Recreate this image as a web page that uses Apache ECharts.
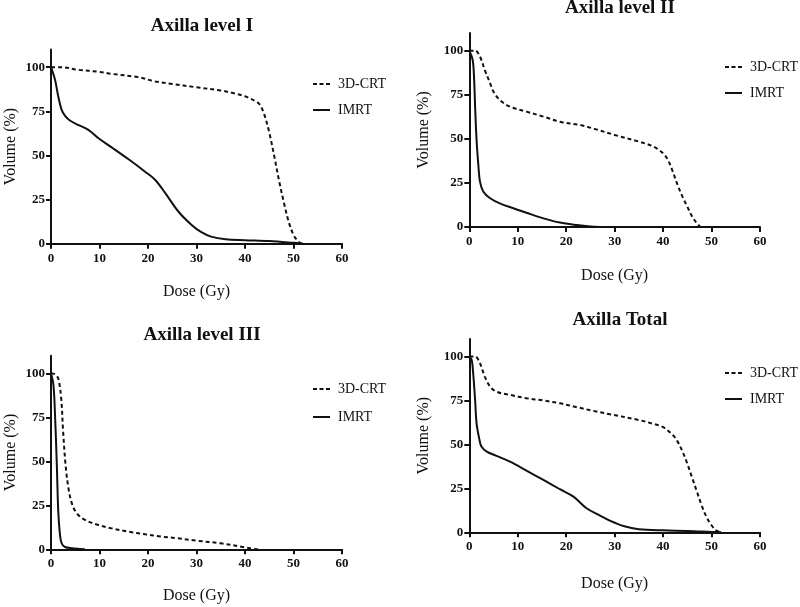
<!DOCTYPE html>
<html><head><meta charset="utf-8">
<script src="https://cdn.jsdelivr.net/npm/echarts@6/dist/echarts.min.js"></script>
<style>html,body{margin:0;padding:0;background:#fff}#c{width:800px;height:607px}</style>
</head><body><div id="c"></div>
<script>
var titles = ['Axilla level I', 'Axilla level II', 'Axilla level III', 'Axilla Total'];
var seriesNames = ['3D-CRT', 'IMRT'];
var xTicks = [0, 10, 20, 30, 40, 50, 60];
var yTicks = [0, 25, 50, 75, 100];

// Axilla level I
var l1CrtDose = [0, 2, 5.6, 10, 12.5, 18, 21.5, 25, 29.7, 35, 38, 40, 42, 43, 44, 45, 46, 47, 48, 49, 50, 51, 51.7];
var l1CrtVol  = [100, 100, 98.5, 97.3, 96.2, 94.3, 91.9, 90.5, 88.7, 86.8, 85, 83.5, 81, 79, 73, 63, 50, 36, 23.5, 12.5, 5, 1.2, 0];
var l1ImrtDose = [0, 0.83, 1.5, 2.2, 2.9, 3.9, 5.6, 7.7, 9.8, 12.5, 16, 19.4, 21.5, 23.6, 26.3, 29, 31, 33, 36, 40, 45, 50, 52];
var l1ImrtVol  = [100, 92.8, 83.4, 75.8, 72.4, 69.8, 67.3, 64.5, 59.7, 54.6, 47.8, 40.8, 36.1, 28.5, 18.1, 10.6, 6.5, 4, 2.5, 2, 1.5, 0.5, 0];

// Axilla level II
var l2CrtDose = [0, 1.2, 2.2, 3.2, 4.3, 5, 6.3, 8.4, 11.8, 15.3, 18.7, 22.9, 26, 30, 35, 38, 40, 41, 42, 43, 44, 45, 46, 47, 47.7];
var l2CrtVol  = [100, 100, 96.6, 89, 81.5, 76.7, 72, 68.2, 65.4, 62.6, 59.7, 57.8, 55.5, 52.2, 48.4, 45.6, 41.8, 38, 31.4, 23.8, 17.2, 11.5, 5.9, 2, 0];
var l2ImrtDose = [0, 0.7, 1, 1.2, 1.5, 1.9, 2.2, 2.9, 4.3, 6.3, 9.1, 11.8, 15.3, 18.7, 22.2, 25, 27];
var l2ImrtVol  = [100, 94.7, 83.4, 68.2, 49.3, 34, 25.7, 20, 16.3, 13.4, 10.6, 8.1, 4.9, 2.5, 1.1, 0.3, 0];

// Axilla level III
var l3CrtDose = [0, 0.83, 1.5, 2.1, 2.5, 3, 3.6, 4.3, 5.3, 7, 9.8, 12.5, 16, 19.4, 22.8, 26, 30, 35, 40, 42, 43];
var l3CrtVol  = [100, 99.4, 97, 85.8, 66.9, 48, 34.7, 26.1, 20.5, 16.7, 13.8, 11.9, 10, 8.5, 7.2, 6.3, 4.9, 3.4, 1.1, 0.2, 0];
var l3ImrtDose = [0, 0.5, 0.83, 1.2, 1.5, 1.86, 2.2, 2.9, 4.3, 6.3, 7];
var l3ImrtVol  = [100, 93.4, 76.3, 48, 21.4, 8.1, 3.4, 1.3, 0.6, 0.2, 0];

// Axilla Total
var totCrtDose = [0, 1.2, 2.2, 3.2, 4.3, 5.6, 8.4, 11.8, 15.3, 18.7, 22.2, 25.6, 29, 35, 38, 40, 42, 43, 44, 45, 46, 47, 48, 49, 50, 51, 52];
var totCrtVol  = [100, 100, 96.2, 88.6, 82.9, 80, 78.2, 76.3, 75, 73.4, 71.2, 69.1, 67.2, 63.9, 61.7, 59.8, 55.4, 51.6, 46, 39, 31, 23, 15, 8.5, 4, 1, 0];
var totImrtDose = [0, 0.5, 0.8, 1.2, 1.5, 2.1, 2.5, 3.6, 5.6, 8.4, 11.8, 15.3, 18.7, 21.5, 24.2, 27, 29, 32, 35, 40, 45, 50, 52];
var totImrtVol  = [100, 98, 90.5, 75.3, 62, 52.6, 48.8, 45.9, 43.5, 40.2, 35.1, 29.8, 24.5, 20.3, 13.7, 9.5, 6.6, 3.4, 1.8, 1.1, 0.8, 0.2, 0];

function zip(a, b) { return a.map(function (v, i) { return [v, b[i]]; }); }

var panels = [
  { crt: zip(l1CrtDose, l1CrtVol), imrt: zip(l1ImrtDose, l1ImrtVol) },
  { crt: zip(l2CrtDose, l2CrtVol), imrt: zip(l2ImrtDose, l2ImrtVol) },
  { crt: zip(l3CrtDose, l3CrtVol), imrt: zip(l3ImrtDose, l3ImrtVol) },
  { crt: zip(totCrtDose, totCrtVol), imrt: zip(totImrtDose, totImrtVol) }
];

var layout = [
  { grid: { left: 51, right: 458, top: 49.5, bottom: 363.3 }, title: { x: 197, y: 12 }, legend: { x: 313, y: 77, gap: 12 }, yGap: 32, xGap: 40 },
  { grid: { left: 469.3, right: 40, top: 33, bottom: 380 }, title: { x: 615, y: -6 }, legend: { x: 725, y: 60, gap: 12 }, yGap: 38, xGap: 41 },
  { grid: { left: 51, right: 458, top: 355.7, bottom: 57.7 }, title: { x: 197, y: 321 }, legend: { x: 313, y: 382, gap: 14 }, yGap: 32, xGap: 38 },
  { grid: { left: 469.3, right: 40, top: 339, bottom: 74.7 }, title: { x: 615, y: 306 }, legend: { x: 725, y: 366, gap: 12 }, yGap: 38, xGap: 43 }
];

var serif = 'Liberation Serif, Times New Roman, serif';
var ink = '#111';
var dashIcon = 'path://M0,0h4v2h-4zM6.5,0h4v2h-4zM13,0h4v2h-4z';
var solidIcon = 'path://M0,0h17v2h-17z';

var option = { animation: false, backgroundColor: '#fff', title: [], legend: [], grid: [], xAxis: [], yAxis: [], series: [] };

layout.forEach(function (L, i) {
  option.grid.push(L.grid);
  option.title.push({ text: titles[i], left: L.title.x, top: L.title.y, textAlign: 'center',
    textStyle: { fontFamily: serif, fontWeight: 'bold', fontSize: 19, color: ink } });
  option.legend.push({ left: L.legend.x, top: L.legend.y, orient: 'vertical', padding: 0,
    itemWidth: 17, itemHeight: 2, itemGap: L.legend.gap, selectedMode: false,
    data: [{ name: seriesNames[0], icon: dashIcon }, { name: seriesNames[1], icon: solidIcon }],
    itemStyle: { color: ink, borderWidth: 0 },
    textStyle: { fontFamily: serif, fontSize: 14, lineHeight: 14, color: ink, padding: [0, 0, 0, 3] } });
  var axisCommon = {
    axisLine: { show: true, onZero: false, lineStyle: { color: ink, width: 2 } },
    axisTick: { show: true, inside: false, length: 5, lineStyle: { color: ink, width: 2 } },
    splitLine: { show: false },
    nameTextStyle: { fontFamily: serif, fontSize: 16, color: ink }
  };
  option.xAxis.push(Object.assign({}, axisCommon, {
    type: 'value', gridIndex: i, min: 0, max: 60, interval: 10,
    name: 'Dose (Gy)', nameLocation: 'middle', nameGap: L.xGap,
    axisTick: Object.assign({}, axisCommon.axisTick, { customValues: xTicks }),
    axisLabel: { customValues: xTicks, margin: 8, fontFamily: serif, fontWeight: 'bold', fontSize: 13, color: ink }
  }));
  option.yAxis.push(Object.assign({}, axisCommon, {
    type: 'value', gridIndex: i, min: 0, max: 110, interval: 25,
    name: 'Volume (%)', nameLocation: 'middle', nameGap: L.yGap,
    axisTick: Object.assign({}, axisCommon.axisTick, { customValues: yTicks }),
    axisLabel: { customValues: yTicks, margin: 6, fontFamily: serif, fontWeight: 'bold', fontSize: 13, color: ink }
  }));
  option.series.push({ name: seriesNames[0], type: 'line', xAxisIndex: i, yAxisIndex: i, data: panels[i].crt,
    showSymbol: false, symbol: 'none', smooth: 0.35,
    lineStyle: { color: ink, width: 2, type: [4, 3] }, itemStyle: { color: ink }, z: 3 });
  option.series.push({ name: seriesNames[1], type: 'line', xAxisIndex: i, yAxisIndex: i, data: panels[i].imrt,
    showSymbol: false, symbol: 'none', smooth: 0.35,
    lineStyle: { color: ink, width: 2, type: 'solid' }, itemStyle: { color: ink }, z: 3 });
});

var chart = echarts.init(document.getElementById('c'), null, { renderer: 'canvas' });
chart.setOption(option);
</script>
</body></html>
